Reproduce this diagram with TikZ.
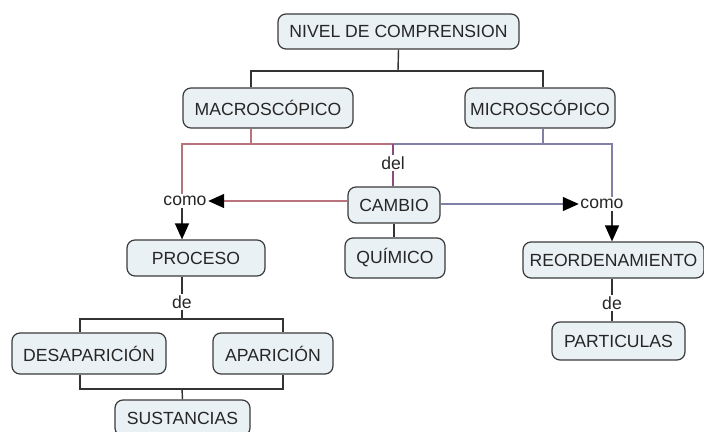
\documentclass[tikz,border=0pt]{standalone}
\usepackage{fontspec}
\setmainfont{Liberation Sans}
\usetikzlibrary{arrows.meta}
\definecolor{cajafondo}{HTML}{EAF1F4}
\definecolor{cajaborde}{HTML}{3A3A3A}
\definecolor{rojo}{HTML}{B9737D}
\definecolor{azul}{HTML}{8080A8}
\definecolor{morado}{HTML}{8A4C7E}
\begin{document}
\begin{tikzpicture}[x=1pt, y=-1pt,
    caja/.style = {draw=cajaborde, fill=cajafondo, line width=1.2pt,
      rounded corners=8pt, inner sep=0pt, text=black!85,
      font=\fontsize{17.6}{20}\selectfont},
    enlace/.style = {inner sep=1.5pt, text=black!85,
      font=\fontsize{17.6}{20}\selectfont},
    linea/.style = {line width=1.4pt, black!80},
    punta/.style = {-{Triangle[length=16pt, width=14pt, color=black]}}]
    \useasboundingbox (0,0) rectangle (704,431);
    \node[caja, minimum width=241, minimum height=35] (nivel) at (398.5,31.5) {NIVEL DE COMPRENSION};
    \node[caja, minimum width=170, minimum height=40] (macro) at (268,108) {MACROSCÓPICO};
    \node[caja, minimum width=150, minimum height=40] (micro) at (540,108) {MICROSCÓPICO};
    \node[caja, minimum width=92, minimum height=36] (cambio) at (394,205) {CAMBIO};
    \node[caja, minimum width=100, minimum height=40] (quimico) at (395,258) {QUÍMICO};
    \node[caja, minimum width=138, minimum height=36] (proceso) at (196,258) {PROCESO};
    \node[caja, minimum width=181, minimum height=36] (reorden) at (613.5,260) {REORDENAMIENTO};
    \node[caja, minimum width=133, minimum height=38] (particulas) at (618.5,341) {PARTICULAS};
    \node[caja, minimum width=154, minimum height=41] (desap) at (89,353.5) {DESAPARICIÓN};
    \node[caja, minimum width=120, minimum height=41] (apar) at (273,353.5) {APARICIÓN};
    \node[caja, minimum width=135, minimum height=36] (sust) at (182.5,418) {SUSTANCIAS};
    \node[enlace] (del) at (393,163) {del};
    \node[enlace] (comoL) at (185,201) {como};
    \node[enlace] (comoR) at (602,204) {como};
    \node[enlace] (deL) at (182,302) {de};
    \node[enlace] (deR) at (612,303) {de};
    \coordinate (jt) at (398,71);
    \coordinate (jm) at (393,144);
    \coordinate (jp) at (182,319);
    \coordinate (jb) at (182,389);
    % nivel
    \draw[linea] (nivel.south) -- (jt);
    \draw[linea] ([xshift=-17]macro.north) |- (jt) -| ([xshift=3]micro.north);
    % macro / micro hacia cambio
    \draw[rojo, line width=1.4pt] ([xshift=-17]macro.south) |- (jm);
    \draw[rojo, line width=1.4pt] ([xshift=-3]comoL.north) |- (jm);
    \draw[azul, line width=1.4pt] ([xshift=3]micro.south) |- (jm);
    \draw[azul, line width=1.4pt] ([xshift=10]comoR.north) |- (jm);
    \draw[morado, line width=1.6pt] (jm) -- (del.north);
    \draw[morado, line width=1.6pt] (del.south) -- (del.south |- cambio.north);
    \draw[rojo, line width=1.4pt, punta] (cambio.west |- comoL) -- (comoL.east);
    \draw[azul, line width=1.4pt, punta] (cambio.east |- comoR) -- (comoR.west);
    \draw[linea] (cambio.south) -- (cambio.south |- quimico.north);
    % como
    \draw[linea, punta] ([xshift=-3]comoL.south) -- ([xshift=-14]proceso.north);
    \draw[linea, punta] ([xshift=10]comoR.south) -- ([xshift=10]comoR.south |- reorden.north);
    % proceso
    \draw[linea] ([xshift=-14]proceso.south) -- (deL.north);
    \draw[linea] (deL.south) -- (jp);
    \draw[linea] ([xshift=-9]desap.north) |- (jp) -| ([xshift=10]apar.north);
    \draw[linea] ([xshift=-9]desap.south) |- (jb) -| ([xshift=10]apar.south);
    \draw[linea] (jb) -- (sust.north);
    % reordenamiento
    \draw[linea] (deR.north) -- (deR.north |- reorden.south);
    \draw[linea] (deR.south) -- (deR.south |- particulas.north);
\end{tikzpicture}
\end{document}
